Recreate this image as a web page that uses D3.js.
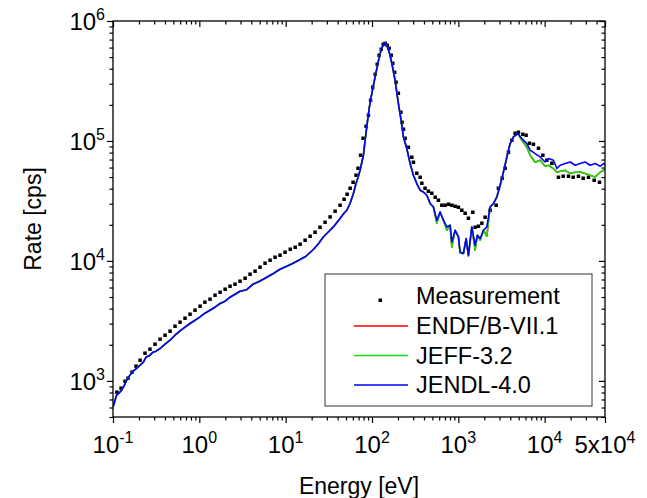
<!DOCTYPE html>
<html>
<head>
<meta charset="utf-8">
<script src="https://cdn.jsdelivr.net/npm/d3@7"></script>
<style>
  body { margin: 0; background: #fff; }
  svg text { font-family: "Liberation Sans", Arial, sans-serif; fill: #000; }
</style>
</head>
<body>
<div id="chart"></div>
<script>
// measured points (energy in eV, rate in cps)
var measE = [0.111,0.124,0.138,0.149,0.166,0.185,0.206,0.235,0.268,0.307,
  0.351,0.401,0.458,0.523,0.598,0.683,0.780,0.892,1.02,1.16,
  1.33,1.52,1.74,1.99,2.27,2.59,2.96,3.39,3.87,4.42,
  5.05,5.77,6.60,7.54,8.61,9.84,11.3,12.9,14.7,16.8,
  19.2,21.9,25.0,28.6,32.7,37.4,42.7,47.5,51.5,55.8,
  60.4,65.4,69.0,73.8,78.9,85.4,90.9,96.3,102,109,
  115,121,128,135,142,150,158,167,174,183,
  190,202,216,223,232,242,264,289,302,330,
  361,378,412,450,493,539,588,644,703,768,
  841,918,1003,1098,1199,1309,1472,1565,1710,1873,
  2045,2336,2742,2915,3218,3486,3806,4168,4551,4971,
  5590,6104,6667,7418,8477,9533,10600,12120,14450,16390,
  18870,21390,24640,27940,32170,37460,43150];
var measRate = [805,869,994,1053,1182,1326,1487,1701,1838,2022,
  2226,2403,2596,2857,3085,3331,3596,3884,4194,4528,
  4797,5178,5485,5810,6154,6395,6774,7176,7748,8208,
  8865,9568,10136,10735,11155,11816,12517,13007,13780,14877,
  16063,17346,19093,21012,23266,25960,29128,32682,35961,40350,
  45270,51798,59225,76000,105331,132600,163800,218400,280300,359600,
  435700,517900,581100,639400,651800,627400,592300,517900,444100,373700,
  308500,249700,173500,143200,125200,105300,88620,73140,66450,53800,
  49830,44410,40350,38090,36660,33950,32050,29120,29120,29680,
  29120,28560,28020,26450,24970,22690,25450,19090,19460,20620,
  23130,26450,29120,40350,48890,59230,80510,101300,115900,118200,
  113700,111600,95680,93870,86960,76000,69060,65200,49830,50790,
  50790,49830,50790,48890,49830,47030,45270];

// simulated spectra, one energy grid
var simE = [0.1,0.110,0.117,0.126,0.134,0.144,0.157,0.171,0.188,0.206,
  0.225,0.241,0.268,0.291,0.315,0.351,0.401,0.458,0.523,0.598,
  0.683,0.780,0.892,1.02,1.16,1.33,1.52,1.74,1.99,2.27,
  2.48,2.96,3.54,4.19,5.05,5.77,7.20,8.61,10.3,12.2,
  14.7,17.2,20.9,23.7,27.3,31.0,35.7,39.4,42.7,46.3,
  51.1,55.8,60.9,65.4,69.0,72.8,79.5,83.2,87.0,93.3,
  99.5,108.6,117.7,124.1,132.7,141.9,151.6,162.1,173.3,185.2,
  202.2,217.4,231.1,253.1,276.4,301.8,330.4,360.8,394,431.5,
  471.2,514.6,563.6,615.3,671.9,735.7,803.5,840.8,918.2,1003,
  1049,1146,1231,1309,1433,1565,1664,1789,1953,2139,
  2336,2551,2794,3050,3331,3648,3983,4350,4891,5442,
  6220,6792,7761,8867,10130,11070,12650,13850,15120,17280,
  19750,22570,25780,29460,33670,38480,43970,48000,50000];
var endfRate = [607,760,790,836,903,1013,1116,1204,1269,1351,
  1431,1576,1638,1735,1768,1862,2022,2183,2403,2611,
  2803,3008,3205,3415,3665,3884,4114,4416,4616,4983,
  5178,5592,5754,6395,6812,7176,7852,8527,9033,9568,
  10270,10940,12450,13780,15820,17350,19200,21010,22560,24500,
  26450,30260,36450,44410,49830,56990,76000,101300,130800,192000,
  248300,341500,452700,535000,615500,655800,603700,517900,411400,320500,
  205000,148800,108000,86440,64810,51800,44150,38840,37580,35280,
  30090,28180,20620,25600,21840,18020,19840,13010,18020,15850,
  11590,11530,15370,10940,19200,12280,16380,14880,18020,16060,
  28180,30090,34150,42730,55160,73570,95130,108000,115300,101300,
  88620,76000,66450,69060,61540,62730,58880,54850,55900,56890,
  53700,54850,55160,53480,51800,50120,54850,56990,59230];
var jeffRate = [607,760,790,836,903,1013,1116,1204,1269,1351,
  1431,1576,1638,1735,1768,1862,2022,2183,2403,2611,
  2803,3008,3205,3415,3665,3884,4114,4416,4616,4983,
  5178,5592,5754,6395,6812,7176,7852,8527,9033,9568,
  10270,10940,12450,13780,15820,17350,19200,21010,22560,24500,
  26450,30260,36450,44410,49830,56990,76000,101300,130800,192000,
  248300,341500,452700,535000,615500,655800,603700,517900,411400,320500,
  205000,148800,108000,86440,64810,51800,44150,38840,37580,35280,
  30090,28180,20620,25600,21840,18020,19840,13010,18020,15850,
  11590,11530,15370,10940,19200,12280,16380,14880,18020,16060,
  28180,30090,34150,42730,55160,73570,95130,108000,115300,101300,
  88620,76000,66450,69060,61540,62730,58880,54850,55900,56890,
  53700,54850,55160,53480,51800,50120,54850,56990,59230];
var jendlRate = [607,760,790,836,903,1013,1116,1204,1269,1351,
  1431,1576,1638,1735,1768,1862,2022,2183,2403,2611,
  2803,3008,3205,3415,3665,3884,4114,4416,4616,4983,
  5178,5592,5754,6395,6812,7176,7852,8527,9033,9568,
  10270,10940,12450,13780,15820,17350,19200,21010,22560,24500,
  26450,30260,36450,44410,49830,56990,76000,101300,130800,192000,
  248300,341500,452700,535000,615500,655800,603700,517900,411400,320500,
  205000,148800,108000,86440,64810,51800,44150,38840,37580,35280,
  30090,28180,21840,25600,21840,19200,19840,14400,18020,15850,
  11890,11530,15370,11160,19200,13510,16380,15370,18020,19200,
  28180,30090,34150,42730,55160,73570,95130,108000,115300,104700,
  95130,83650,78520,73570,66830,71340,69060,58880,62730,64810,
  66830,62730,64810,66830,62730,64810,61540,64810,62730];

var seriesNames = ["ENDF/B-VII.1", "JEFF-3.2", "JENDL-4.0"];
var seriesColors = ["#ff0000", "#10e010", "#0000ff"];

// tick labels
var xTickVals = [0.1, 1, 10, 100, 1000, 10000, 50000];
var xTickLabels = [["10","-1"],["10","0"],["10","1"],["10","2"],["10","3"],["10","4"],["5x10","4"]];
var yTickVals = [1000, 10000, 100000, 1000000];
var yTickLabels = [["10","3"],["10","4"],["10","5"],["10","6"]];

var margin = {top: 21, right: 42, bottom: 81, left: 113},
    width = 647 - margin.left - margin.right,
    height = 498 - margin.top - margin.bottom;

var x = d3.scaleLog().domain([0.1, 5e4]).range([0, width]);
var y = d3.scaleLog().domain([500, 1e6]).range([height, 0]);

var svg = d3.select("#chart").append("svg")
    .attr("width", 647)
    .attr("height", 498)
  .append("g")
    .attr("transform", "translate(" + margin.left + "," + margin.top + ")");

// minor tick positions (2..9 in each decade)
var xMinor = [], yMinor = [];
for (var p = -1; p <= 4; p++) {
  for (var m = 2; m <= 9; m++) {
    var v = m * Math.pow(10, p);
    if (v < 5e4) xMinor.push(v);
  }
}
for (var p = 2; p <= 5; p++) {
  for (var m = 2; m <= 9; m++) {
    var v = m * Math.pow(10, p);
    if (v >= 500) yMinor.push(v);
  }
}

function drawAxis(gen, vals, size, tr) {
  var g = svg.append("g").attr("transform", tr)
    .call(gen.tickValues(vals).tickSize(size).tickSizeOuter(0).tickFormat(""));
  g.select(".domain").remove();
  g.selectAll("line").attr("stroke", "#000").attr("stroke-width", 1.2);
}
// bottom & left: outward, top & right: inward
drawAxis(d3.axisBottom(x), xTickVals, 6, "translate(0," + height + ")");
drawAxis(d3.axisBottom(x), xMinor, 3.5, "translate(0," + height + ")");
drawAxis(d3.axisTop(x), xTickVals, -6, "translate(0,0)");
drawAxis(d3.axisTop(x), xMinor, -3.5, "translate(0,0)");
drawAxis(d3.axisLeft(y), yTickVals, 6, "translate(0,0)");
drawAxis(d3.axisLeft(y), yMinor, 3.5, "translate(0,0)");
drawAxis(d3.axisRight(y), yTickVals, -6, "translate(" + width + ",0)");
drawAxis(d3.axisRight(y), yMinor, -3.5, "translate(" + width + ",0)");

// tick labels with superscripts
xTickVals.forEach(function(v, i) {
  var t = svg.append("text")
      .attr("x", x(v)).attr("y", height + 36)
      .attr("text-anchor", "middle")
      .style("font-size", "24px");
  t.append("tspan").text(xTickLabels[i][0]);
  t.append("tspan").attr("dy", "-0.6em").style("font-size", "16px").text(xTickLabels[i][1]);
});
yTickVals.forEach(function(v, i) {
  var t = svg.append("text")
      .attr("x", -8).attr("y", y(v) + 9)
      .attr("text-anchor", "end")
      .style("font-size", "24px");
  t.append("tspan").text(yTickLabels[i][0]);
  t.append("tspan").attr("dy", "-0.6em").style("font-size", "16px").text(yTickLabels[i][1]);
});

// axis titles
svg.append("text")
    .attr("x", width / 2).attr("y", height + 77)
    .attr("text-anchor", "middle")
    .style("font-size", "23px")
    .text("Energy [eV]");
svg.append("text")
    .attr("transform", "translate(" + (41 - margin.left) + "," + (height / 2) + ") rotate(-90)")
    .attr("text-anchor", "middle")
    .style("font-size", "23px")
    .text("Rate [cps]");

// plot area clip
svg.append("clipPath").attr("id", "clip")
  .append("rect").attr("width", width).attr("height", height);

var plot = svg.append("g").attr("clip-path", "url(#clip)");

// measurement
var meas = measE.map(function(e, i) { return {e: e, r: measRate[i]}; });
plot.selectAll(".dot")
    .data(meas)
  .enter().append("rect")
    .attr("class", "dot")
    .attr("x", function(d) { return x(d.e) - 1.75; })
    .attr("y", function(d) { return y(d.r) - 1.75; })
    .attr("width", 3.5)
    .attr("height", 3.5)
    .attr("fill", "#000");

// simulations
var line = d3.line()
    .x(function(d) { return x(d.e); })
    .y(function(d) { return y(d.r); });

[endfRate, jeffRate, jendlRate].forEach(function(rates, k) {
  var pts = simE.map(function(e, i) { return {e: e, r: rates[i]}; });
  plot.append("path")
      .datum(pts)
      .attr("fill", "none")
      .attr("stroke", seriesColors[k])
      .attr("stroke-width", 1.6)
      .attr("stroke-linejoin", "round")
      .attr("d", line);
});

// frame
svg.append("rect")
    .attr("width", width).attr("height", height)
    .attr("fill", "none")
    .attr("stroke", "#000")
    .attr("stroke-width", 1.3);

// legend
var lg = svg.append("g").attr("transform", "translate(" + (325 - margin.left) + "," + (274 - margin.top) + ")");
lg.append("rect")
    .attr("width", 267).attr("height", 132)
    .attr("fill", "#fff")
    .attr("stroke", "#333")
    .attr("stroke-width", 1);
lg.append("rect")
    .attr("x", 53.5).attr("y", 24.5)
    .attr("width", 3.5).attr("height", 3.5)
    .attr("fill", "#000");
lg.append("text")
    .attr("x", 91).attr("y", 30)
    .style("font-size", "23.5px")
    .text("Measurement");
seriesNames.forEach(function(name, k) {
  var yy = 52 + k * 29.5;
  lg.append("line")
      .attr("x1", 29).attr("x2", 83)
      .attr("y1", yy).attr("y2", yy)
      .attr("stroke", seriesColors[k])
      .attr("stroke-width", 1.6);
  lg.append("text")
      .attr("x", 91).attr("y", yy + 8)
      .style("font-size", "23.5px")
      .text(name);
});
</script>
</body>
</html>
